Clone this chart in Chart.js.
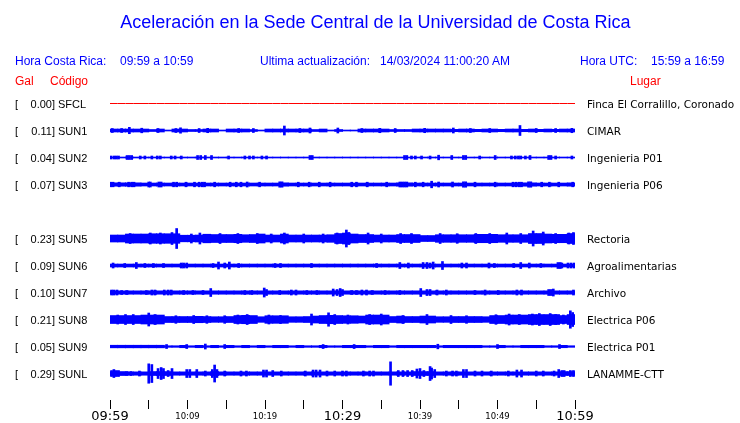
<!DOCTYPE html>
<html>
<head>
<meta charset="utf-8">
<script src="https://cdn.jsdelivr.net/npm/chart.js@4.4.1/dist/chart.umd.min.js"></script>
<style>
  body { margin: 0; background: #fff; }
  #wrap { position: relative; width: 740px; height: 423px; font-family: "Liberation Sans", Arial, sans-serif; }
  #wrap canvas { position: absolute; left: 0; top: 0; }
  .t { position: absolute; white-space: nowrap; line-height: 1; }
  .azul { color: #0000ff; font-size: 12px; }
  .rojo { color: #ff0000; font-size: 12px; }
</style>
</head>
<body>
<div id="wrap">
  <canvas id="chart" width="740" height="423"></canvas>
  <div class="t" style="left:0;width:751px;text-align:center;top:13px;font-size:18px;color:#0000ff">Aceleración en la Sede Central de la Universidad de Costa Rica</div>
  <div class="t azul" style="left:15px;top:55px">Hora Costa Rica:</div>
  <div class="t azul" style="left:120px;top:55px">09:59 a 10:59</div>
  <div class="t azul" style="left:260px;top:55px">Ultima actualización:</div>
  <div class="t azul" style="left:380px;top:55px">14/03/2024 11:00:20 AM</div>
  <div class="t azul" style="left:580px;top:55px">Hora UTC:</div>
  <div class="t azul" style="left:651px;top:55px">15:59 a 16:59</div>
  <div class="t rojo" style="left:15px;top:75px">Gal</div>
  <div class="t rojo" style="left:50px;top:75px">Código</div>
  <div class="t rojo" style="left:630px;top:75px">Lugar</div>
</div>
<script>
// estaciones (SUN4 sin datos, fila vacia)
const estaciones = ['SFCL', 'SUN1', 'SUN2', 'SUN3', 'SUN4', 'SUN5', 'SUN6', 'SUN7', 'SUN8', 'SUN9', 'SUNL']
const lugares = ['Finca El Corralillo, Coronado', 'CIMAR', 'Ingenieria P01', 'Ingenieria P06', '',
  'Rectoria', 'Agroalimentarias', 'Archivo', 'Electrica P06', 'Electrica P01', 'LANAMME-CTT']
const gal = [0.00, 0.11, 0.04, 0.07, null, 0.23, 0.09, 0.10, 0.21, 0.05, 0.29]
const horas = ['09:59', '10:09', '10:19', '10:29', '10:39', '10:49', '10:59']

// envolvente por minuto (semi-amplitud, escala de la grafica)
const sfcl = [0,0,0,0,0,0,0,0,0,0, 0,0,0,0,0,0,0,0,0,0, 0,0,0,0,0,0,0,0,0,0,
  0,0,0,0,0,0,0,0,0,0, 0,0,0,0,0,0,0,0,0,0, 0,0,0,0,0,0,0,0,0,0, 0]
const sun1 = [1.5,1.5,1.5,1.5,1.5,1,1.5,0.5,1.5,1.5, 1,1,1.5,1.5,0.5,1.5,1.5,1.5,1,0.5,
  1.5,1.5,1.5,1.5,1.5,1.5,1,1.5,0.5,1, 0.5,0.5,1.5,1.5,1.5,1.5,1,1,1,1.5,
  1.5,1.5,1.5,1.5,1.2,1.5,1.5,1.2,1.5,1.5, 1.2,1.5,1.5,1.2,1.5,1.2,1.5,1.2,1.5,1.5]
const sun2 = [0.5,0.5,0.5,0.5,0.5,0.5,0.5,0.5,0.5,0.5, 0.5,0.5,0.5,0.5,0.5,0.5,0.5,0.5,0.5,0.5,
  0.5,0.5,0.5,0.5,0.5,0.5,0.5,0.5,0.5,0.5, 0.5,0.5,0.5,0.5,0.5,0.5,0.5,0.5,0.5,0.5,
  0.5,0.5,0.5,0.5,0.5,0.5,0.5,0.5,0.5,0.5, 0.5,0.5,0.5,0.5,0.5,0.5,0.5,0.5,0.5,0.5]
const sun3 = [1.7,1.7,1.7,1.7,1.5,1.5,1.5,1.5,1.5,1.5, 1.5,1.5,1.5,1.5,1.5,1.5,1.5,1.5,1.5,1.5,
  1.5,1.5,1.7,1.5,1.5,1.5,1.5,1.5,1.5,1.5, 1.5,1.5,1.5,1.5,1.5,1.5,1.5,1.7,1.7,1.5,
  1.5,1.5,1.5,1.5,1.5,1.5,1.5,1.5,1.5,1.5, 1.5,1.5,1.7,1.7,1.7,1.5,1.5,1.5,1.5,1.7]
const sun5 = [3.5,3.5,4.5,4.5,4.5,4.8,4.8,4.8,4.8,3.3, 3.3,3.5,4.3,4,4,4,4.2,3.8,4,4.5,
  3.5,3.5,4.5,3.5,3.5,3.5,3.5,3.5,3.8,5, 5.5,4.5,4,4,3.5,3.5,3.5,4,4,4,
  3,3,3.8,3.8,3.8,3.8,3.8,4.2,4.2,4.2, 3.8,3.8,3.8,3.8,5,5,4.5,4.2,4.2,5]
const sun6 = [1.5,1.5,1.5,1.5,1.5,1.5,1.5,1.5,1.5,1.5, 1.5,1.5,1.5,1.5,1.5,1.5,1.5,1.5,1.5,1.5,
  1.5,1.5,1.5,1.5,1.5,1.5,1.5,1.5,1.5,1.5, 1.5,1.5,1.5,1.5,1.5,1.5,1.5,1.5,1.5,1.5,
  1.5,1.5,1.5,1.5,1.5,1.5,1.5,1.5,1.5,1.5, 1.5,1.5,1.5,1.5,1.5,1.5,1.5,1.5,1.5,1.5]
const sun7 = [1.7,1.7,1.7,1.7,1.7,1.7,1.7,1.7,1.7,1.7, 1.7,1.7,1.7,1.7,1.7,1.7,1.7,1.7,1.7,1.7,
  1.7,1.7,1.7,1.7,1.7,1.7,1.7,1.7,1.7,1.7, 1.7,1.7,1.7,1.7,1.7,1.7,1.7,1.7,1.7,1.7,
  1.7,1.7,1.7,1.7,1.7,1.7,1.7,1.7,1.7,1.7, 1.7,1.7,1.7,1.7,1.7,1.7,1.7,1.7,1.7,1.7]
const sun8 = [4,4,4,4,4.5,4.5,4.5,3,3,3, 3,3.2,3,2.8,2.8,3,4,4.2,4,2.8,
  3.8,3.8,3.8,2.8,2.8,3,3.5,4,4.2,4, 3.8,3.8,3.5,4.5,4.5,4.5,3,3.5,3,3,
  3.5,3.5,2.8,2.8,3,3,3,3,2.8,4, 4,4.5,4.5,4.5,5,5,5,5,4,5]
const sun9 = [1.3,1.3,1.3,1.3,1.3,1.3,1.3,0.8,0.8,1.2, 0.8,1.2,0.8,1.2,0.8,1.2,0.8,1.2,0.8,1.2,
  0.8,1.2,1.2,0.8,1.2,0.8,0.8,1.2,0.8,0.8, 1.2,1.2,1.2,0.8,1.2,1.2,0.8,1.2,1.2,1.2,
  1.2,1.2,0.8,1.2,1.2,1.2,1.2,1.2,0.8,0.8, 1.2,0.8,0.8,1.2,1.2,1.2,0.8,0.8,1.2,0.8]
const sunl = [2,2,1.7,1.7,1.7,2,2,2,1.7,1.7, 1.7,1.7,1.7,2,1.7,1.7,1.7,1.7,1.7,1.7,
  1.7,1.7,1.7,1.7,1.7,1.7,1.7,1.7,1.7,1.7, 1.7,1.7,1.7,1.7,1.7,1.7,1.7,1.7,1.7,2,
  2,2,1.7,1.7,1.7,1.7,1.7,1.7,1.7,1.7, 1.7,1.7,1.7,1.7,1.7,1.7,1.7,1.7,2,2]

// picos [minuto, semi-amplitud]
const picosSun1 = [[0.3,2],[1.5,2],[2.5,3.2],[4.1,2.3],[6.2,2],[8.5,2],[9.1,2.7],[11.5,2],[12.6,2.2],[16.6,2],
  [18.5,2],[22.5,4.5],[24.5,2],[25.8,2.5],[29.4,2.5],[32.5,2],[34.8,2.2],[36.8,2],[40.6,2.2],[44.3,2.5],
  [46.5,2],[49,2],[52.9,5],[55,2],[57.5,2],[59.6,2.2]]
const picosSun2 = [[0.1,1.5],[0.5,1.5],[0.8,1.5],[1.1,1.5],[2.2,2],[2.5,2],[2.8,2],[3.9,1.5],[4.5,1.5],[5.4,1.5],
  [6.1,1.5],[6.5,1.5],[7.9,1.5],[8.4,1.5],[9.2,1.5],[11.3,2],[11.7,2],[12.3,2],[13.1,2],[15.3,1.5],
  [17.4,1.5],[18,1.5],[18.5,1.5],[19.6,1.5],[20.2,1.5],[25.8,2],[26.1,2],[38,2],[38.3,2],[38.9,1.5],
  [39.4,1.5],[40.2,1.5],[41.3,1.5],[42.4,2.3],[44.1,2],[45.6,2],[45.9,2],[47.7,1.5],[49.7,2],[51.8,1.5],
  [52.3,1.5],[52.7,1.5],[53,1.5],[53.6,1.5],[54.2,2],[56.6,2],[56.9,2],[57.5,1.5],[59.6,1.5]]
const picosSun3 = [[0.1,2.3],[0.4,2.3],[1.2,2.3],[2.4,2.3],[2.8,2.3],[3.1,2.3],[5,2.5],[5.2,2.5],[6.3,2.5],[6.6,2.5],
  [8.2,2.3],[8.6,2.3],[9.8,2.3],[10.9,2.3],[11.5,2.3],[11.9,2.3],[12.2,2.3],[13.5,2.3],[15.5,2.3],[16.3,2.3],
  [16.9,2.3],[17.7,2.5],[19.3,2.3],[21.9,2.7],[22.2,2.7],[24.3,2.3],[25.7,2.3],[27,2.3],[28.4,2.3],[31.2,2.3],
  [31.8,2.3],[33.2,2.3],[35.7,2.3],[37.4,2.5],[37.7,2.5],[38,2.5],[38.3,2.5],[39.4,2.3],[40.4,2.3],[41.5,3.3],
  [42.4,2.5],[44.2,2.5],[45.6,2.7],[45.9,2.7],[47.1,2.3],[49.7,2.3],[52,2.3],[52.4,2.3],[52.8,2.3],[53.1,2.3],
  [54,2.7],[54.3,2.7],[55.7,2.3],[56.7,2.3],[57.9,2.3],[59.7,2.3]]
const picosSun5 = [[2.6,5],[5.2,5.5],[6.5,5.5],[8,6],[8.6,10],[10.5,4.5],[11.6,5.5],[14.2,5],[16.5,5],[19,5],
  [20.8,4.5],[22.5,5.5],[25,4.5],[27.5,4.5],[29.3,5.5],[30.5,8.5],[30.8,6],[33.3,5.5],[35,4.5],[37.5,5],
  [38.9,5],[42.6,5],[44.8,4.8],[47.2,5],[49,5],[51.2,5.5],[53,5],[54.6,7.5],[55.9,6.5],[57.5,5],
  [59.2,5.5],[59.8,6]]
const picosSun6 = [[0.4,2.5],[1.9,2],[3.4,3],[4.5,2],[5.6,2],[6.9,2],[9.2,2.5],[9.5,2.5],[9.9,2.5],[13.3,2],
  [14,3.5],[14.8,2.5],[15.4,3.5],[16.6,2],[21.3,2],[22,2],[26,2],[34.4,2],[37.4,3],[38.5,2.5],
  [40.4,3],[40.9,3],[41.3,2.5],[41.7,3.5],[42.9,4],[45.4,2.5],[46,2.5],[48.9,2.5],[49.6,2],[52.1,2],
  [53,3],[54.1,2.5],[55.6,2],[57.8,3],[58.1,3],[58.3,2.5],[59.1,2.5],[59.5,2.5],[59.9,2.5]]
const picosSun7 = [[0.2,2.5],[0.5,2.5],[0.9,2.5],[1.5,2],[2.2,2],[4.7,2],[5.4,2.5],[5.8,2.5],[7,2.5],[7.5,2.5],
  [7.9,2.5],[9.5,2],[10.7,2],[12,2],[13,4],[17.4,2],[18.3,2],[19.9,4.5],[20.2,3],[21.9,2],
  [23.4,2.5],[24,2.5],[25.4,2],[26.7,2],[28.8,3.5],[29.3,3],[29.7,4],[30,3],[31.2,2],[31.8,2],
  [32.5,2.5],[33.1,2.5],[33.8,2],[35.5,2],[37.4,2],[40.1,4],[40.9,3],[41.3,3],[42.2,2.5],[43.4,2.5],
  [47.1,2],[48.4,2.5],[50.1,2],[52.5,2.5],[53.1,2.5],[56.6,3],[56.9,3],[57.2,3.5],[59.8,2.5]]
const picosSun8 = [[1,4.5],[2,5],[3,5],[5,6.5],[5.8,5],[8.5,3.8],[10.8,4],[12.5,3.8],[14.8,3.8],[16.5,4.5],
  [17.7,5],[20.5,4.5],[22,4],[26,5.5],[28.2,6.7],[29,5],[30.7,4.5],[33.5,5],[35,5.5],[37.8,4],
  [40.9,5],[44,4],[46,3.8],[49.8,4.8],[51.5,5.5],[52.8,5],[54.5,5.5],[55.4,6],[56.8,6],[57.5,5],
  [58.5,4.5],[59.4,8.7],[59.7,7]]
const picosSun9 = [[7.3,2],[9.9,2],[12.3,2.5],[14.8,2],[27.5,2],[31.5,2],[42.3,2.3],[50,2],[58,2]]
const picosSunl = [[0.2,3],[0.5,4],[0.8,3],[1.1,3],[2.2,2],[2.7,2],[3.8,2.5],[5,9.7],[5.4,9],[6.2,5],
  [6.6,6],[6.9,5],[7.5,3],[8,5],[9.9,4],[10.3,4],[11.2,4],[12.3,2.5],[13.2,4],[13.5,8.5],
  [13.8,4],[14.8,2.5],[16.9,2.5],[17.6,2.5],[19.8,3.5],[20.2,3.5],[21,3],[22.1,2.5],[25.2,2.5],[26.2,3.5],
  [26.6,3.5],[27.1,3.5],[28,2.5],[29,2.5],[30,2.5],[30.5,2.5],[32.7,2.5],[33.5,2.5],[34,2.5],[36.2,11.7],
  [37.2,3],[37.8,3],[38.4,3],[39,3],[39.6,4.5],[40,5],[40.5,3],[41.3,7],[41.5,5.5],[41.9,4],
  [43.4,2.5],[44.2,2.5],[44.7,2.5],[45.6,4],[46,4],[47.1,2.5],[48,2.5],[49.2,2.5],[51.4,2.5],[52.5,3.5],
  [53.1,3.5],[55,2.5],[55.9,2.5],[57.3,2.5],[57.9,4],[58.3,3],[58.6,3],[59.4,3],[59.8,3]]

const cuerpos = [null, sun1, sun2, sun3, null, sun5, sun6, sun7, sun8, sun9, sunl]
const picos = [null, picosSun1, picosSun2, picosSun3, null, picosSun5, picosSun6, picosSun7, picosSun8, picosSun9, picosSunl]

const ESCALA = 27 // px por fila
const azul = '#0000ff'

var datasets = []
datasets.push({
  type: 'line',
  data: sfcl.map((v, i) => ({ x: i, y: v })),
  borderColor: '#ff0000',
  borderWidth: 1,
  pointRadius: 0,
  tension: 0
})
for (let f = 0; f < estaciones.length; f++) {
  if (!cuerpos[f]) continue
  datasets.push({
    data: cuerpos[f].map((a, i) => ({ x: i + 0.5, y: [f - a / ESCALA, f + a / ESCALA] })),
    backgroundColor: azul,
    barThickness: 8,
    stack: 'traza'
  })
  datasets.push({
    data: picos[f].map(p => ({ x: p[0], y: [f - p[1] / ESCALA, f + p[1] / ESCALA] })),
    backgroundColor: azul,
    barThickness: 2,
    stack: 'traza'
  })
}

const etiquetas = {
  id: 'etiquetas',
  afterDraw(chart) {
    const c = chart.ctx
    const y = chart.scales.y
    const x = chart.scales.x
    c.save()
    // marcas de los extremos del eje de tiempo
    c.strokeStyle = '#000'
    c.lineWidth = 1
    c.beginPath()
    ;[x.min, x.max].forEach(v => {
      const px = Math.round(x.getPixelForValue(v)) + 0.5
      c.moveTo(px, x.top)
      c.lineTo(px, x.top + 9)
    })
    c.stroke()
    c.fillStyle = '#000'
    for (let f = 0; f < estaciones.length; f++) {
      if (gal[f] === null) continue
      const py = y.getPixelForValue(f) + 4
      c.font = '11px "Liberation Sans"'
      c.textAlign = 'left'
      c.fillText('[', 15, py)
      c.textAlign = 'right'
      c.fillText(gal[f].toFixed(2) + ']', 55, py)
      c.textAlign = 'left'
      c.fillText(estaciones[f], 58, py)
      c.font = '10.5px "DejaVu Sans"'
      c.fillText(lugares[f], 587, py)
    }
    c.restore()
  }
}

var ctx = document.getElementById('chart').getContext('2d')
var myChart = new Chart(ctx, {
  type: 'bar',
  data: { datasets: datasets },
  options: {
    responsive: false,
    animation: false,
    layout: { padding: { left: 110, right: 165, top: 90, bottom: 0 } },
    plugins: { legend: { display: false }, tooltip: { enabled: false } },
    scales: {
      x: {
        type: 'linear',
        min: 0,
        max: 60,
        offset: false,
        stacked: true,
        afterFit: s => { s.height = 23 },
        border: { display: false },
        grid: { offset: false, drawOnChartArea: false, drawTicks: true, tickLength: 9, color: '#000', lineWidth: 1 },
        ticks: {
          stepSize: 5,
          autoSkip: false,
          maxRotation: 0,
          padding: 0,
          color: '#000',
          callback: v => (v % 10 === 0 ? horas[v / 10] : ''),
          font: c => ({
            family: 'DejaVu Sans',
            size: (c.tick && c.tick.value % 30 === 0) ? 13 : 8.5,
            lineHeight: '15px'
          })
        }
      },
      y: { type: 'linear', reverse: true, min: -0.5, max: 10.98, stacked: false, display: false }
    }
  },
  plugins: [etiquetas]
})
</script>
</body>
</html>
